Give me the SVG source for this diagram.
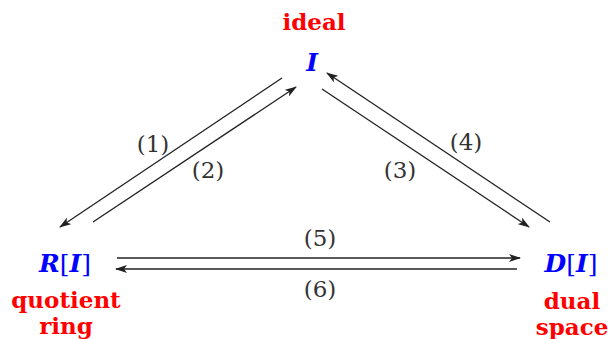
<svg xmlns="http://www.w3.org/2000/svg" width="608" height="339" viewBox="0 0 608 339">
<style>
.lab{font-family:"DejaVu Serif",serif;font-weight:bold;fill:#ff0000;font-size:23px;text-anchor:middle}
.math{font-family:"DejaVu Serif",serif;font-weight:bold;font-style:italic;fill:#0000ff;font-size:25px;text-anchor:middle}
.br{font-style:normal;font-weight:normal}
.num{font-family:"DejaVu Serif",serif;fill:#333;font-size:23px;text-anchor:middle}
.ln{stroke:#222;stroke-width:1.3;fill:none;marker-end:url(#ah)}
</style>
<defs>
<marker id="ah" viewBox="0 0 12 8" refX="11" refY="4" markerWidth="12" markerHeight="8" markerUnits="userSpaceOnUse" orient="auto">
<path d="M0,0 L12,4 L0,8 L3,4 Z" fill="#222"/>
</marker>
</defs>
<rect width="608" height="339" fill="#fff"/>
<g id="ideal">
<text class="lab" x="314" y="30">ideal</text>
<text class="math" x="312" y="71">I</text>
</g>
<g id="quotient">
<text class="math" x="65" y="272">R<tspan class="br">[</tspan>I<tspan class="br">]</tspan></text>
<text class="lab" x="66" y="308">quotient</text>
<text class="lab" x="66" y="334">ring</text>
</g>
<g id="dual">
<text class="math" x="571" y="272">D<tspan class="br">[</tspan>I<tspan class="br">]</tspan></text>
<text class="lab" x="572" y="309">dual</text>
<text class="lab" x="572" y="335">space</text>
</g>
<g id="connectors">
<line class="ln" x1="282" y1="78" x2="60" y2="227"/>
<line class="ln" x1="93" y1="222" x2="296" y2="87"/>
<line class="ln" x1="322" y1="89" x2="529" y2="227"/>
<line class="ln" x1="550" y1="222" x2="327" y2="73"/>
<line class="ln" x1="117" y1="258" x2="520" y2="258"/>
<line class="ln" x1="517" y1="269" x2="116" y2="269"/>
<text class="num" x="153" y="152">(1)</text>
<text class="num" x="208" y="178">(2)</text>
<text class="num" x="400" y="178">(3)</text>
<text class="num" x="466" y="150">(4)</text>
<text class="num" x="320" y="246">(5)</text>
<text class="num" x="320" y="297">(6)</text>
</g>
</svg>
